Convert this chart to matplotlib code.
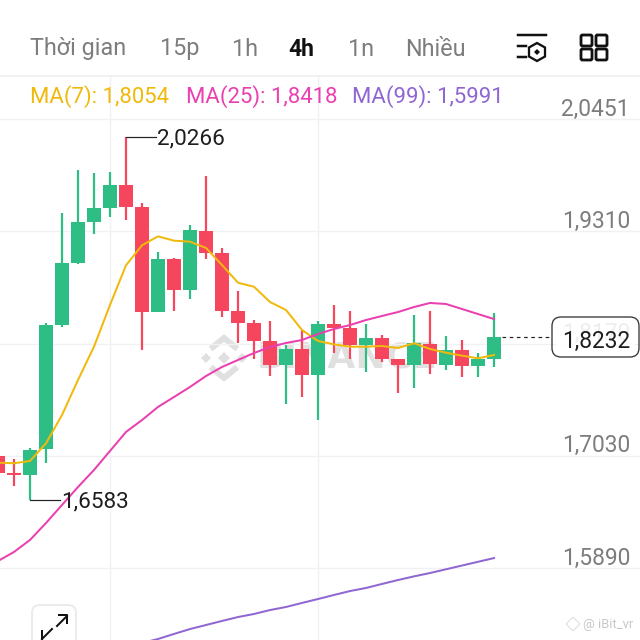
import matplotlib.pyplot as plt
from matplotlib.patches import FancyBboxPatch, Polygon, Rectangle

plt.rcParams['font.family'] = ['Roboto', 'DejaVu Sans']

# candles, oldest first
opens = [1.7028, 1.6850, 1.6838, 1.7096, 1.8361, 1.8991, 1.9405, 1.9547, 1.9784, 1.9560, 1.8490,
         1.9026, 1.8714, 1.9316, 1.9087, 1.8498, 1.8382, 1.8196, 1.7949, 1.8115, 1.7847, 1.8369,
         1.8328, 1.8155, 1.8223, 1.8013, 1.7952, 1.8168, 1.7955, 1.8105, 1.7939, 1.8010]
highs = [1.7028, 1.6997, 1.7109, 1.8379, 1.9499, 1.9933, 1.9899, 1.9913, 2.0266, 1.9595, 1.9100,
         1.9039, 1.9377, 1.9872, 1.9141, 1.8701, 1.8409, 1.8402, 1.8155, 1.8308, 1.8396, 1.8565,
         1.8498, 1.8369, 1.8257, 1.8013, 1.8463, 1.8504, 1.8247, 1.8206, 1.8074, 1.8477]
lows = [1.6855, 1.6723, 1.6583, 1.6960, 1.8341, 1.8978, 1.9283, 1.9453, 1.9425, 1.8105, 1.8490,
        1.8504, 1.8620, 1.9026, 1.8443, 1.8173, 1.8016, 1.7840, 1.7556, 1.7630, 1.7393, 1.8077,
        1.8016, 1.7881, 1.7983, 1.7671, 1.7722, 1.7861, 1.7901, 1.7833, 1.7833, 1.7932]
closes = [1.6855, 1.6838, 1.7089, 1.8361, 1.8991, 1.9405, 1.9547, 1.9784, 1.9560, 1.8490, 1.9026,
          1.8714, 1.9323, 1.9093, 1.8498, 1.8382, 1.8199, 1.7949, 1.8115, 1.7847, 1.8369, 1.8328,
          1.8155, 1.8223, 1.8013, 1.7952, 1.8173, 1.7959, 1.8105, 1.7942, 1.8010, 1.8232]

ma7 = [1.6960, 1.6954, 1.6977, 1.7157, 1.7444, 1.7800, 1.8138, 1.8562, 1.8965, 1.9168, 1.9259,
       1.9215, 1.9205, 1.9141, 1.8968, 1.8788, 1.8747, 1.8592, 1.8511, 1.8308, 1.8196, 1.8162,
       1.8138, 1.8138, 1.8145, 1.8125, 1.8173, 1.8115, 1.8077, 1.8047, 1.8020, 1.8054]
ma25 = [1.5961, 1.6053, 1.6175, 1.6347, 1.6530, 1.6713, 1.6886, 1.7079, 1.7272, 1.7393, 1.7526,
        1.7627, 1.7729, 1.7840, 1.7932, 1.8003, 1.8074, 1.8135, 1.8176, 1.8206, 1.8267, 1.8318,
        1.8358, 1.8409, 1.8450, 1.8490, 1.8541, 1.8582, 1.8572, 1.8521, 1.8470, 1.8419]
ma99 = [1.5128, 1.5169, 1.5220, 1.5270, 1.5311, 1.5352, 1.5392, 1.5423, 1.5463, 1.5494, 1.5535,
        1.5575, 1.5616, 1.5656, 1.5687, 1.5728, 1.5768, 1.5805, 1.5839, 1.5877, 1.5915, 1.5953,
        1.5991]

price_ticks = [2.0451, 1.9310, 1.8170, 1.7030, 1.5890]
price_labels = ['2,0451', '1,9310', '1,8170', '1,7030', '1,5890']
time_ticks = [7, 20]
tabs = ['Thời gian', '15p', '1h', '4h', '1n', 'Nhiều']
legend_texts = ['MA(7): 1,8054', 'MA(25): 1,8418', 'MA(99): 1,5991']

GREEN = '#2ebd85'
RED = '#f6465d'
GOLD = '#f0b90b'
PINK = '#ea3fb0'
PURPLE = '#8f66d2'
GRID = '#f0f1f2'
GRAY = '#7d7d7d'
WM = '#e0e0e0'
px = 0.72  # one pixel in points at dpi 100

fig = plt.figure(figsize=(6.4, 6.4), dpi=100, facecolor='white')

# pixel layer under the candles (watermark)
under = fig.add_axes([0, 0, 1, 1], zorder=0)
under.set_xlim(0, 640)
under.set_ylim(640, 0)
under.axis('off')

# price chart
ax = fig.add_axes([0, 0, 1, 1], zorder=1)
ax.patch.set_alpha(0)
ax.set_xlim(0.125, 40.125)
ax.set_ylim(2.16598 - 0.0010158 * 640, 2.16598)
for s in ax.spines.values():
    s.set_visible(False)
ax.set_yticks(price_ticks)
ax.set_xticks(time_ticks)
ax.tick_params(length=0, labelleft=False, labelbottom=False)
ax.grid(True, color=GRID, lw=1.4 * px)
ax.set_axisbelow(True)

for i in range(len(opens)):
    col = GREEN if closes[i] >= opens[i] else RED
    ax.vlines(i, lows[i], highs[i], color=col, lw=2.2 * px, zorder=2)
    ax.bar(i, abs(closes[i] - opens[i]), 0.875, bottom=min(opens[i], closes[i]), color=col, zorder=3)

ax.plot(range(len(ma7)), ma7, color=GOLD, lw=2 * px, zorder=4)
ax.plot(range(len(ma25)), ma25, color=PINK, lw=2 * px, zorder=4)
ax.plot(range(9, 9 + len(ma99)), ma99, color=PURPLE, lw=2 * px, zorder=4)

for p, lab in zip(price_ticks, price_labels):
    ax.annotate(lab, xy=(1, p), xycoords=('axes fraction', 'data'), xytext=(-10, 10),
                textcoords='offset pixels', ha='right', va='center', fontsize=16.4, color=GRAY, zorder=1)

# min and max labels
hi = highs.index(max(highs))
lo = lows.index(min(lows))
ax.plot([hi, hi + 1.9], [highs[hi], highs[hi]], color='#222222', lw=1.2 * px, zorder=5)
ax.annotate('2,0266', xy=(hi + 1.95, highs[hi]), xytext=(0, -2), textcoords='offset pixels',
            fontsize=16.2, color='#1e1e1e', va='center', zorder=5)
ax.plot([lo, lo + 1.9], [lows[lo], lows[lo]], color='#222222', lw=1.2 * px, zorder=5)
ax.annotate('1,6583', xy=(lo + 1.95, lows[lo]), xytext=(0, -2), textcoords='offset pixels',
            fontsize=16.2, color='#1e1e1e', va='center', zorder=5)

# last price
last = closes[-1]
ax.plot([31.5, 34.6], [last, last], color='#222222', lw=1.2 * px, ls=(0, (3, 3)), zorder=5)

# watermark
under.text(347, 358, 'BINANCE', fontsize=26, fontweight='bold', family='DejaVu Sans', color=WM,
           ha='center', va='center')
cx, cy = 224, 358
for dx, dy, r in [(-18, 0, 5), (18, 0, 5), (0, 0, 6)]:
    under.add_patch(Polygon([(cx + dx - r, cy + dy), (cx + dx, cy + dy - r), (cx + dx + r, cy + dy),
                             (cx + dx, cy + dy + r)], color=WM, lw=0))
under.plot([cx - 11, cx, cx + 11], [cy - 11, cy - 20, cy - 11], color=WM, lw=6 * px, solid_joinstyle='miter')
under.plot([cx - 11, cx, cx + 11], [cy + 11, cy + 20, cy + 11], color=WM, lw=6 * px, solid_joinstyle='miter')

# pixel layer on top (header, buttons)
top = fig.add_axes([0, 0, 1, 1], zorder=2)
top.set_xlim(0, 640)
top.set_ylim(640, 0)
top.axis('off')

top.add_patch(Rectangle((0, 0), 640, 76, color='white', lw=0))
top.plot([0, 640], [76, 76], color='#eeeeee', lw=1.5 * px)

tab_x = [30, 160, 232, 288, 348, 405]
for x, t in zip(tab_x, tabs):
    if t == '4h':
        top.text(x, 49, t, fontsize=16.5, fontweight='bold', color='#111111', va='center')
    else:
        top.text(x, 49, t, fontsize=16.8, color=GRAY, va='center')

for x, t, c in zip([30, 186, 352], legend_texts, [GOLD, PINK, PURPLE]):
    top.text(x, 97, t, fontsize=15.9, color=c, va='center')

# price box
top.add_patch(FancyBboxPatch((556, 321), 79, 32, boxstyle='round,pad=0,rounding_size=5', mutation_aspect=1,
                             fc='white', ec='none', alpha=0.88))
top.add_patch(FancyBboxPatch((552, 317), 87, 40, boxstyle='round,pad=0,rounding_size=9', fc='none',
                             ec='#333333', lw=1.3 * px))
top.text(596.5, 341, '1,8232', fontsize=16.4, color='#1e1e1e', ha='center', va='center')

# indicator icon
top.plot([518, 546], [35, 35], color='#111111', lw=2.5 * px)
top.plot([518, 526], [46, 46], color='#111111', lw=2.5 * px)
top.plot([518, 526], [57, 57], color='#111111', lw=2.5 * px)
top.add_patch(Polygon([(537, 43), (545, 47.5), (545, 56.5), (537, 61), (529, 56.5), (529, 47.5)],
                      fc='white', ec='#111111', lw=2.3 * px))
top.add_patch(Polygon([(537, 49), (540, 52), (537, 55), (534, 52)], color='#111111', lw=0))

# layout icon
for x in [581, 596]:
    for y in [35, 49]:
        top.add_patch(FancyBboxPatch((x, y), 11, 11, boxstyle='round,pad=0,rounding_size=1.5', fc='none',
                                     ec='#111111', lw=2.8 * px))

# expand button
top.add_patch(FancyBboxPatch((32, 605), 44, 50, boxstyle='round,pad=0,rounding_size=8', fc='white',
                             ec='#ebebeb', lw=2 * px))
top.plot([57, 67], [626, 616], color='#111111', lw=2 * px)
top.plot([59, 67, 67], [615, 615, 623], color='#111111', lw=2 * px)
top.plot([42, 52], [639, 629], color='#111111', lw=2 * px)
top.plot([42, 42], [631, 640], color='#111111', lw=2 * px)

# corner credit
top.add_patch(Polygon([(573, 617), (580, 624), (573, 631), (566, 624)], fc='none', ec='#dcdcdc', lw=1 * px))
top.text(583, 624.5, '@ iBit_vr', fontsize=9.4, color='#c8c8c8', va='center')

fig.savefig('out.png', dpi=100)
